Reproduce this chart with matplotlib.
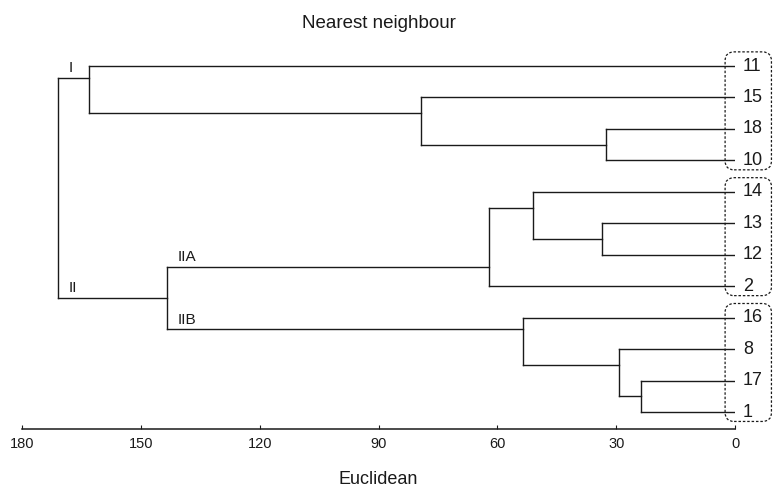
import matplotlib
matplotlib.use("Agg")
import matplotlib.pyplot as plt
from matplotlib.patches import FancyBboxPatch
from matplotlib.transforms import IdentityTransform

plt.rcParams['font.family'] = ['Liberation Sans', 'DejaVu Sans']

# leaves from top to bottom
leaves = ["11", "15", "18", "10", "14", "13", "12", "2", "16", "8", "17", "1"]
# merges (child a, child b, distance); id 12 is the first merge, 13 the next ...
merges = [
    (2, 3, 32.5), (1, 12, 79.3), (0, 13, 163.0),
    (5, 6, 33.5), (4, 15, 51.0), (16, 7, 62.0),
    (10, 11, 23.7), (9, 18, 29.2), (8, 19, 53.4),
    (17, 20, 143.3), (14, 21, 170.8),
]
cluster_names = {14: "I", 21: "II", 17: "IIA", 20: "IIB"}
groups = [(0, 3), (4, 7), (8, 11)]
ticks = [180, 150, 120, 90, 60, 30, 0]

fig = plt.figure(figsize=(7.73, 4.90), dpi=100)
ax = fig.add_axes([22 / 773, 1 - 429 / 490, (735 - 22) / 773, (429 - 50.3) / 490])
ax.set_xlim(180, 0)
ax.set_ylim(11.54, -0.5)

lc = "#1a1a1a"
lw = 1.0

# node: y, height, size
nodes = {i: (float(i), 0.0, 1) for i in range(len(leaves))}
parent = {}
for k, (a, b, h) in enumerate(merges):
    ya, ha, na = nodes[a]
    yb, hb, nb = nodes[b]
    y = (ya * nb + yb * na) / (na + nb)
    nid = len(leaves) + k
    nodes[nid] = (y, h, na + nb)
    parent[a] = nid
    parent[b] = nid
    ax.plot([h, h], [ya, yb], color=lc, lw=lw)
    ax.plot([ha, h], [ya, ya], color=lc, lw=lw)
    ax.plot([hb, h], [yb, yb], color=lc, lw=lw)

for nid, name in cluster_names.items():
    y = nodes[nid][0]
    ph = nodes[parent[nid]][1]
    ax.text(ph - 2.5, y - 0.08, name, fontsize=11, ha="left", va="bottom", color=lc)

for i, name in enumerate(leaves):
    ax.text(-2.0, i, name, fontsize=13, ha="left", va="center", color=lc, clip_on=False)

for s in ["top", "left", "right"]:
    ax.spines[s].set_visible(False)
ax.spines["bottom"].set_linewidth(1.1)
ax.spines["bottom"].set_color(lc)
ax.set_yticks([])
ax.set_xticks(ticks)
ax.set_xticklabels([str(t) for t in ticks])
ax.tick_params(axis="x", direction="in", length=3, labelsize=10.5, pad=6, colors=lc)

fig.text(379 / 773, 1 - 24 / 490, "Nearest neighbour", fontsize=13.5, ha="center", va="center", color=lc)
fig.text(378 / 773, 1 - 479 / 490, "Euclidean", fontsize=13, ha="center", va="center", color=lc)

# dashed rounded boxes round the leaf groups
for first, last in groups:
    (x0, y0), (x1, y1) = ax.transData.transform([(2.5, last + 0.3), (-9.2, first - 0.45)])
    box = FancyBboxPatch((x0, y0), x1 - x0, y1 - y0,
                         boxstyle="round,pad=0,rounding_size=9",
                         transform=IdentityTransform(), fill=False,
                         ec=lc, lw=0.9, ls=(0, (2, 1.5)))
    fig.add_artist(box)

fig.savefig("out.png", dpi=100)
